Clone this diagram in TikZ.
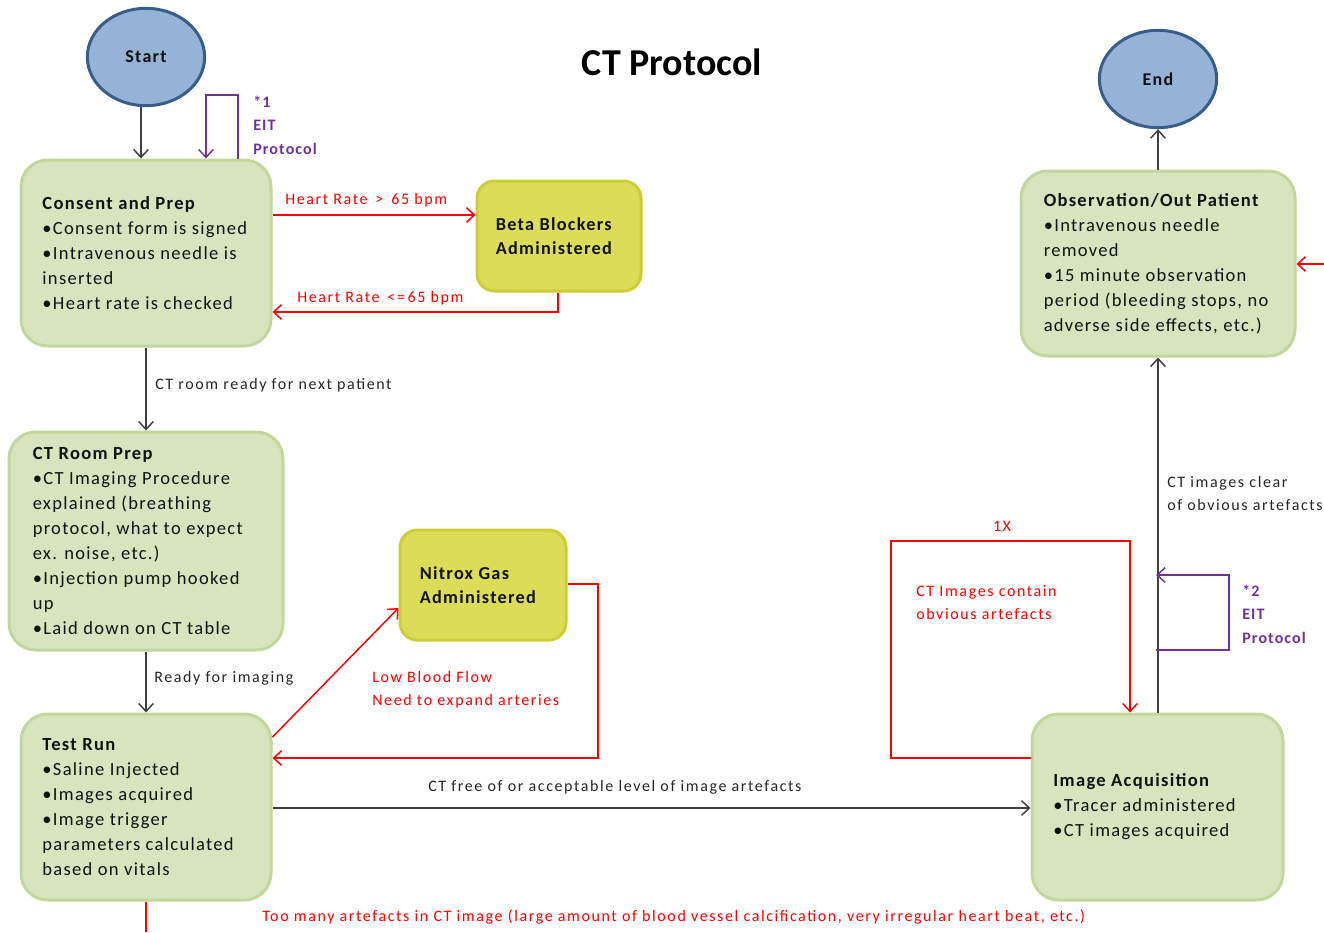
\documentclass[tikz,border=0pt]{standalone}
\usepackage{fontspec}
\setmainfont{Carlito}
\newfontfamily\trackfont[LetterSpace=7]{Carlito}
\newfontfamily\lblfam[LetterSpace=10]{Carlito}
\usetikzlibrary{arrows.meta,shapes.geometric}
\definecolor{grfill}{HTML}{D7E4BD}
\definecolor{grline}{HTML}{C3D69B}
\definecolor{yfill}{HTML}{DCDC58}
\definecolor{yline}{HTML}{CDCD36}
\definecolor{ovfill}{HTML}{95B3D7}
\definecolor{ovline}{HTML}{385D8A}
\definecolor{purp}{HTML}{7030A0}
\definecolor{lnk}{HTML}{404040}
\definecolor{lbltxt}{HTML}{262626}
\definecolor{txt}{HTML}{111111}
\definecolor{redc}{HTML}{FF0000}
\begin{document}
\begin{tikzpicture}[x=0.75pt,y=-0.75pt,
 gbox/.style={rectangle, rounded corners=20pt, draw=grline, fill=grfill, line width=2.25pt, inner sep=0pt},
 ybox/.style={rectangle, rounded corners=13pt, draw=yline, fill=yfill, line width=2.25pt, inner sep=0pt},
 oval/.style={ellipse, draw=ovline, fill=ovfill, line width=2.25pt, minimum width=88pt, minimum height=73pt, inner sep=0pt, text=txt, font=\trackfont\bfseries\fontsize{13.5pt}{16pt}\selectfont},
 btext/.style={anchor=west, align=left, inner sep=0pt, text=txt, font=\trackfont\fontsize{13.9pt}{18.75pt}\selectfont},
 bbold/.style={btext, font=\trackfont\bfseries\fontsize{13.7pt}{18pt}\selectfont},
 lbl/.style={anchor=west, inner sep=0pt, align=left, font=\lblfam\fontsize{12pt}{17.25pt}\selectfont},
 lblk/.style={lbl, text=lbltxt},
 lred/.style={lbl, text=redc},
 lpur/.style={anchor=west, inner sep=0pt, align=left, text=purp, font=\trackfont\bfseries\fontsize{12pt}{17.6pt}\selectfont},
 conn/.style={line width=1.1pt, -{Straight Barb[length=6pt,width=11pt]}},
 blk/.style={conn, draw=lnk},
 rln/.style={conn, draw=redc},
 pur/.style={conn, draw=purp}]
\useasboundingbox (0,0) rectangle (1324,932);

% title
\node[font=\bfseries\fontsize{28.5pt}{32pt}\selectfont, text=black] (title) at (672,62) {CT Protocol};

% ovals
\node[oval] (start) at (146,57) {Start};
\node[oval] (end) at (1158,79) {End};

% boxes
\node[gbox, minimum width=187.5pt, minimum height=139.5pt] (consent) at (146,253) {};
\node[btext] (consentT) at ([xshift=17pt]consent.west) {\textbf{Consent and Prep}\\•Consent form is signed\\•Intravenous needle is\\inserted\\•Heart rate is checked};

\node[ybox, minimum width=123pt, minimum height=82.5pt] (beta) at (559,236) {};
\node[bbold] (betaT) at ([xshift=15pt]beta.west) {Beta Blockers\\Administered};

\node[gbox, minimum width=205.5pt, minimum height=163.5pt] (ctroom) at (146,541) {};
\node[btext] (ctroomT) at ([xshift=18.75pt]ctroom.west) {\textbf{CT Room Prep}\\•CT Imaging Procedure\\explained (breathing\\protocol, what to expect\\ex. noise, etc.)\\•Injection pump hooked\\up\\•Laid down on CT table};

\node[ybox, minimum width=124.5pt, minimum height=82.5pt] (nitrox) at (483,585) {};
\node[bbold] (nitroxT) at ([xshift=15.75pt]nitrox.west) {Nitrox Gas\\Administered};

\node[gbox, minimum width=187.5pt, minimum height=139.5pt] (testrun) at (146,807) {};
\node[btext] (testrunT) at ([xshift=17pt]testrun.west) {\textbf{Test Run}\\•Saline Injected\\•Images acquired\\•Image trigger\\parameters calculated\\based on vitals};

\node[gbox, minimum width=205.5pt, minimum height=138.75pt] (obs) at (1158,263.5) {};
\node[btext] (obsT) at ([xshift=18pt]obs.west) {\textbf{Observation/Out Patient}\\•Intravenous needle\\removed\\•15 minute observation\\period (bleeding stops, no\\adverse side effects, etc.)};

\node[gbox, minimum width=188.25pt, minimum height=139.5pt] (imgacq) at (1157.5,807) {};
\node[btext] (imgacqT) at ([xshift=17pt]imgacq.west) {\textbf{Image Acquisition}\\•Tracer administered\\•CT images acquired};

% free ends
\coordinate (bottomexit) at (146,932);
\coordinate (rightin) at (1324,264);
\coordinate (p2a) at (1156,650);
\coordinate (p2b) at (1156,575);

% connectors
\draw[blk] (start.south -| 141,0) -- (consent.north -| 141,0);
\draw[pur] (consent.north -| 238,0) |- (206,95) -- (consent.north -| 206,0);
\draw[rln] (consent.east |- 0,215) -- (beta.west |- 0,215);
\draw[rln] (beta.south -| 558,0) |- (consent.east |- 0,312);
\draw[blk] (consent.south) -- (ctroom.north);
\draw[blk] (ctroom.south) -- (testrun.north);
\draw[rln] (testrun.east |- 0,737) -- (nitrox.west |- 0,608);
\draw[rln] (nitrox.east |- 0,584) -| (598,758) -- (testrun.east |- 0,758);
\draw[blk] (testrun.east |- 0,808) -- (imgacq.west |- 0,808);
\draw[rln, -] (testrun.south) -- (bottomexit);
\draw[rln] (imgacq.west |- 0,758) -| (891,541) -| (imgacq.north -| 1130,0);
\draw[blk] (imgacq.north -| 1158,0) -- (obs.south -| 1158,0);
\draw[pur] (p2a) -| (1229,575) -- (p2b);
\draw[blk] (obs.north -| 1158,0) -- (end.south);
\draw[rln] (rightin) -- (obs.east |- 0,264);

% labels
\node[lpur] (l1) at (253,125) {*1\\EIT\\Protocol};
\node[lpur] (l2) at (1242,614) {*2\\EIT\\Protocol};
\node[lred] (hr1) at (285,200) {Heart Rate \,>\, 65 bpm};
\node[lred] (hr2) at (297,298) {Heart Rate \,<=\,65 bpm};
\node[lblk] (lctroom) at (155,385) {CT room ready for next patient};
\node[lblk] (lready) at (154,678) {Ready for imaging};
\node[lred] (llow) at (372,689.5) {Low Blood Flow\\Need to expand arteries};
\node[lblk] (lfree) at (428,787) {CT free of or acceptable level of image artefacts};
\node[lred] (ltoo) at (262,917) {Too many artefacts in CT image (large amount of blood vessel calcification, very irregular heart beat, etc.)};
\node[lred, anchor=center] (l1x) at (1002,526) {1X};
\node[lred] (lcontain) at (916,602.5) {CT Images contain\\obvious artefacts};
\node[lblk] (lclear) at (1167,493.5) {CT images clear\\of obvious artefacts};
\end{tikzpicture}
\end{document}
